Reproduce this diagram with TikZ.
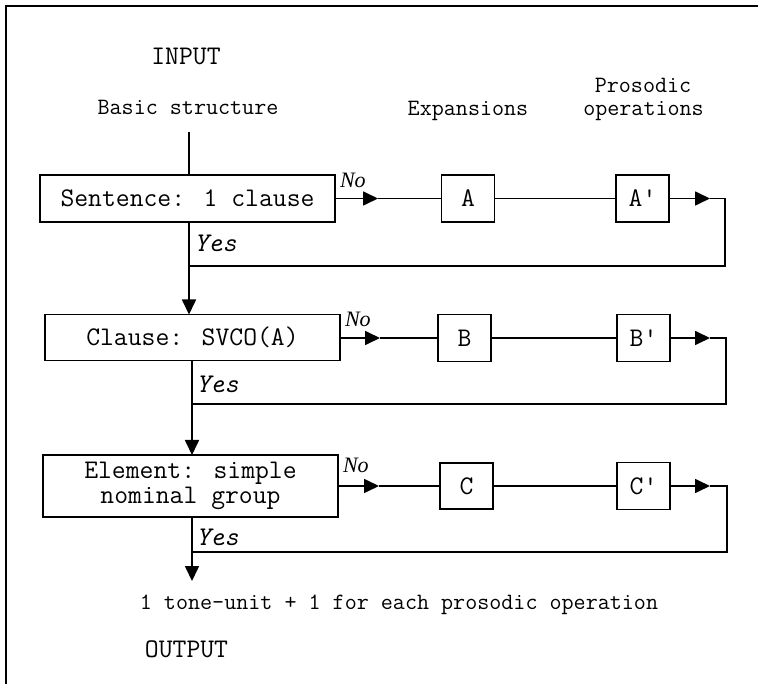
\documentclass[tikz,border=0pt]{standalone}
\usepackage{fontspec}
\newfontfamily\noserif{Liberation Serif}
\usetikzlibrary{arrows.meta}

\begin{document}
\begin{tikzpicture}[x=1pt,y=-1pt,
  every node/.style={inner sep=0pt, outer sep=0pt},
  line/.style={line width=1.7pt},
  tip/.style={-{Triangle[length=15pt,width=14pt]}},
  mainbox/.style={draw, line width=1.7pt, minimum width=295pt,
    font=\ttfamily\fontsize{26.9}{27}\selectfont, align=center},
  opbox/.style={draw, line width=1.7pt, minimum width=53pt, minimum height=47pt,
    font=\ttfamily\fontsize{26.9}{27}\selectfont},
  title/.style={font=\ttfamily\fontsize{26.9}{28}\selectfont, anchor=base},
  heading/.style={font=\ttfamily\fontsize{23.4}{25}\selectfont, anchor=base},
  yeslabel/.style={font=\ttfamily\itshape\fontsize{27}{28}\selectfont, anchor=base west},
  nolabel/.style={font=\noserif\itshape\fontsize{22}{23}\selectfont, anchor=base west}
]
\useasboundingbox (0,0) rectangle (758,684);

% frame
\draw[line width=2pt] (6,684) -- (6,6) -- (758,6);

% headings
\node[title] (input) at (186,65) {INPUT};
\node[heading] (basic) at (188,115) {Basic structure};
\node[heading] (exp) at (468,116) {Expansions};
\node[heading] (pros1) at (643,93) {Prosodic};
\node[heading] (pros2) at (643.5,116) {operations};

% decision boxes
\node[mainbox, minimum height=47pt] (S) at (187.5,198.5) {Sentence: 1 clause};
\node[mainbox, minimum height=46pt] (Cl) at (192.5,337.5) {Clause: SVCO(A)};
\node[mainbox, minimum height=62pt] (E) at (190.5,486) {Element: simple\\[-2pt]nominal group};

% expansion and prosodic boxes
\node[opbox] (A) at (468,198.5) {A};
\node[opbox] (Ap) at (642.5,198.5) {A'};
\node[opbox] (B) at (464.5,338) {B};
\node[opbox] (Bp) at (643.5,338) {B'};
\node[opbox, minimum height=46pt] (C) at (466.5,486) {C};
\node[opbox] (Cp) at (643.5,486) {C'};

% trunk positions and loop corners
\coordinate (in) at (189,132);
\coordinate (t2) at (192,0);
\coordinate (n1) at (378,198.5);
\coordinate (n2) at (380,338);
\coordinate (n3) at (379,486);
\coordinate (p1) at (710,198.5);
\coordinate (p2) at (710,338);
\coordinate (p3) at (710,486);
\coordinate (k1) at (725,198.5);
\coordinate (k2) at (726,338);
\coordinate (k3) at (727,486);
\coordinate (r1) at (725,266);
\coordinate (r2) at (726,404);
\coordinate (r3) at (727,552);
\coordinate (out) at (192,581);

% input line
\draw[line] (in) -- (in |- S.north);

% Yes branches
\draw[line,tip] (S.south -| in) -- (Cl.north -| in);
\draw[line,tip] (Cl.south -| t2) -- (E.north -| t2);
\draw[line,tip] (E.south -| t2) -- (out);

% No branches, row 1
\draw[line,tip] (S.east |- n1) -- (n1);
\draw[line] (n1) -- (A.west);
\draw[line] (A.east) -- (Ap.west);
\draw[line,tip] (Ap.east) -- (p1);
\draw[line] (p1) -- (k1) -- (r1) -- (r1 -| in);

% row 2
\draw[line,tip] (Cl.east |- n2) -- (n2);
\draw[line] (n2) -- (B.west);
\draw[line] (B.east) -- (Bp.west);
\draw[line,tip] (Bp.east) -- (p2);
\draw[line] (p2) -- (k2) -- (r2) -- (r2 -| t2);

% row 3
\draw[line,tip] (E.east |- n3) -- (n3);
\draw[line] (n3) -- (C.west);
\draw[line] (C.east) -- (Cp.west);
\draw[line,tip] (Cp.east) -- (p3);
\draw[line] (p3) -- (k3) -- (r3) -- (r3 -| t2);

% branch labels
\node[nolabel] (no1) at (340,188) {No};
\node[nolabel] (no2) at (345,327) {No};
\node[nolabel] (no3) at (343,473) {No};
\node[yeslabel] (yes1) at (194,252) {Yes};
\node[yeslabel] (yes2) at (196,393) {Yes};
\node[yeslabel] (yes3) at (196,545) {Yes};

% result
\node[heading] (result) at (399,609) {1 tone-unit + 1 for each prosodic operation};
\node[title] (output) at (186.5,657) {OUTPUT};
\end{tikzpicture}
\end{document}
